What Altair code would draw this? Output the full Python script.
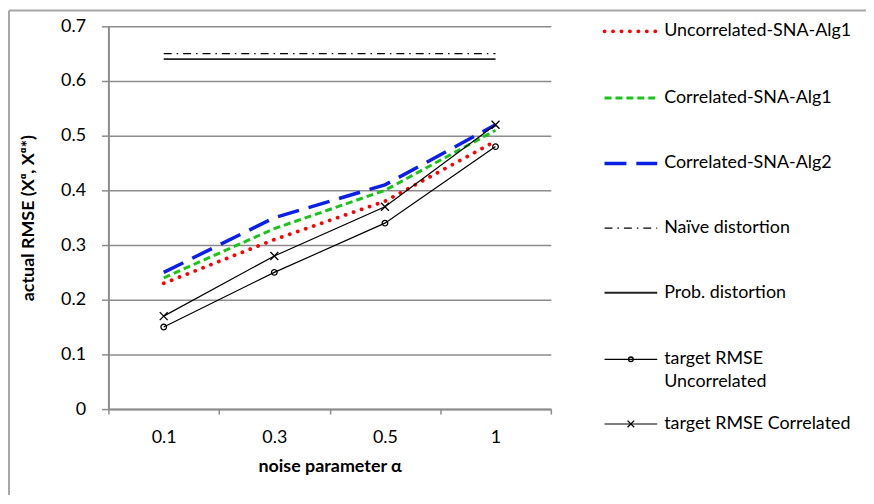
import altair as alt
import pandas as pd

alphas = ["0.1", "0.3", "0.5", "1"]
uncorr_alg1 = [0.23, 0.31, 0.38, 0.49]
corr_alg1 = [0.24, 0.33, 0.40, 0.51]
corr_alg2 = [0.25, 0.35, 0.41, 0.52]
naive = [0.65, 0.65, 0.65, 0.65]
prob = [0.64, 0.64, 0.64, 0.64]
target_uncorr = [0.15, 0.25, 0.34, 0.48]
target_corr = [0.17, 0.28, 0.37, 0.52]

names = [
    "Uncorrelated-SNA-Alg1",
    "Correlated-SNA-Alg1",
    "Correlated-SNA-Alg2",
    "Naïve distortion",
    "Prob. distortion",
    "target RMSE Uncorrelated",
    "target RMSE Correlated",
]
series_values = [uncorr_alg1, corr_alg1, corr_alg2, naive, prob, target_uncorr, target_corr]

FONT = "Lato"
FS = 18
GRID = "#8c8c8c"

styles = {
    "Uncorrelated-SNA-Alg1": dict(color="#ff0000", strokeWidth=3.8, strokeDash=[0.1, 8.4], strokeCap="round"),
    "Correlated-SNA-Alg1": dict(color="#19c419", strokeWidth=3, strokeDash=[7, 4]),
    "Correlated-SNA-Alg2": dict(color="#0a1fe8", strokeWidth=3.5, strokeDash=[22, 10]),
    "Naïve distortion": dict(color="#000000", strokeWidth=1.3, strokeDash=[8, 5, 1.5, 5]),
    "Prob. distortion": dict(color="#222222", strokeWidth=2),
    "target RMSE Uncorrelated": dict(color="#000000", strokeWidth=1.2),
    "target RMSE Correlated": dict(color="#000000", strokeWidth=1.2),
}

X_PATH = "M-1,-1L1,1M-1,1L1,-1"
markers = {
    "target RMSE Uncorrelated": dict(shape="circle", size=32),
    "target RMSE Correlated": dict(shape=X_PATH, size=64),
}

x_enc = alt.X(
    "alpha:N",
    sort=alphas,
    scale=alt.Scale(type="band", domain=alphas, paddingInner=0, paddingOuter=0),
    axis=alt.Axis(
        title="noise parameter α",
        titleFont=FONT, titleFontSize=18, titleFontWeight="bold", titleColor="black",
        titlePadding=11,
        labelFont=FONT, labelFontSize=FS, labelColor="black", labelAngle=0,
        labelPadding=15,
        tickBand="extent", tickSize=5, tickColor=GRID, tickWidth=1.5,
        domainColor=GRID, domainWidth=2, grid=False,
    ),
)
y_enc = alt.Y(
    "value:Q",
    scale=alt.Scale(domain=[0, 0.7], nice=False, zero=True),
    axis=alt.Axis(
        title="actual RMSE (X\u1D45, X\u1D45*)",
        titleFont=FONT, titleFontSize=18, titleFontWeight="bold", titleColor="black",
        titlePadding=23,
        values=[0, 0.1, 0.2, 0.3, 0.4, 0.5, 0.6, 0.7], format="~g",
        labelFont=FONT, labelFontSize=FS, labelColor="black",
        labelPadding=16, tickSize=7, tickColor=GRID, tickWidth=1.5,
        domainColor=GRID, domainWidth=2,
        grid=True, gridColor=GRID, gridWidth=1.5,
    ),
)

layers = []
for name, vals in zip(names, series_values):
    df = pd.DataFrame({"alpha": alphas, "value": vals, "series": name})
    st = styles[name]
    layers.append(alt.Chart(df).mark_line(**st).encode(x=x_enc, y=y_enc))
    if name in markers:
        m = markers[name]
        layers.append(
            alt.Chart(df).mark_point(shape=m["shape"], size=m["size"], filled=False,
                                     color="black", strokeWidth=1.3, opacity=1)
            .encode(x=x_enc, y=y_enc)
        )

# manual legend (Excel-like)
leg_x1, leg_x2, leg_text_x = 499, 552, 559
leg_rows = [5, 72, 138, 203, 268, 335, 400]
for name, yy in zip(names, leg_rows):
    st = styles[name]
    d = pd.DataFrame({"series": [name]})
    layers.append(
        alt.Chart(d).mark_rule(**st).encode(
            x=alt.value(leg_x1), x2=alt.value(leg_x2), y=alt.value(yy)
        )
    )
    if name in markers:
        m = markers[name]
        layers.append(
            alt.Chart(d).mark_point(shape=m["shape"], size=m["size"] * 0.7, filled=False,
                                    color="black", strokeWidth=1.3, opacity=1)
            .encode(x=alt.value((leg_x1 + leg_x2) / 2), y=alt.value(yy))
        )
    if name == "target RMSE Uncorrelated":
        lines = [("target RMSE", yy), ("Uncorrelated", yy + 23)]
    else:
        lines = [(name, yy)]
    for txt, ty in lines:
        layers.append(
            alt.Chart(d).mark_text(align="left", baseline="middle", font=FONT,
                                   fontSize=FS, color="black")
            .encode(x=alt.value(leg_text_x), y=alt.value(ty), text=alt.value(txt))
        )

# outer frame (left and top edges visible)
frame = pd.DataFrame({"k": [0]})
layers.append(alt.Chart(frame).mark_rule(color="#a6a6a6", strokeWidth=2).encode(
    x=alt.value(-100), x2=alt.value(766), y=alt.value(-16)))
layers.append(alt.Chart(frame).mark_rule(color="#a6a6a6", strokeWidth=2).encode(
    x=alt.value(-100), y=alt.value(-16), y2=alt.value(480)))

chart = alt.layer(*layers).properties(
    width=445, height=385,
    autosize=alt.AutoSizeParams(type="none"),
    padding={"left": 101, "top": 17, "right": 317, "bottom": 85},
    background="white",
).configure_view(strokeWidth=0)

chart.save("out.html", embed_options={"renderer": "svg", "actions": False})
